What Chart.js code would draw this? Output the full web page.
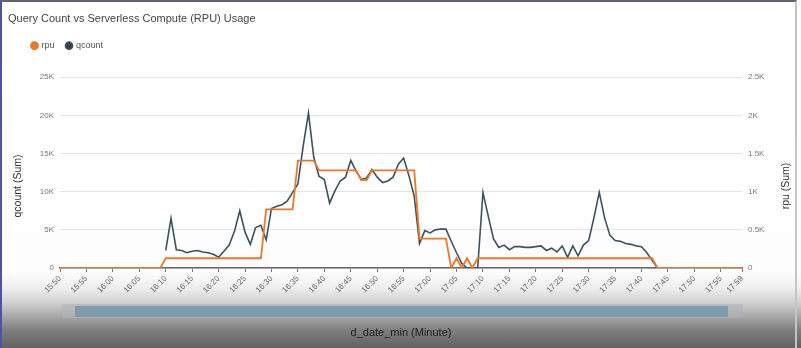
<!DOCTYPE html>
<html>
<head>
<meta charset="utf-8">
<title>Query Count vs Serverless Compute (RPU) Usage</title>
<script src="https://cdn.jsdelivr.net/npm/chart.js@4.4.0/dist/chart.umd.min.js"></script>
<style>
  html, body { margin: 0; padding: 0; }
  body {
    width: 801px; height: 348px; overflow: hidden; position: relative;
    background: linear-gradient(to bottom, #ffffff 0px, #fdfdfd 272px, #eeeeee 288px, #d2d2d2 302px,
      #a9a9a9 316px, #7f7f7f 330px, #626262 348px);
  }
  #frame {
    position: absolute; left: 0; top: 0; width: 797px; height: 348px;
    border-top: 2px solid #5f6470; border-left: 2px solid #4a56a0; border-right: 2px solid #c4c4c4;
    box-sizing: border-box;
  }
  #track { position: absolute; left: 62px; top: 304px; width: 681px; height: 14px; background: rgba(175, 180, 186, 0.55); }
  #thumb { position: absolute; left: 75px; top: 306px; width: 653px; height: 11px; background: #7e9bae; }
  canvas { position: absolute; left: 0; top: 0; }
</style>
</head>
<body>
<div id="frame"></div>
<div id="track"></div>
<div id="thumb"></div>
<canvas id="chart" width="801" height="348"></canvas>
<script>
// minutes from 15:50 to 17:59
const START_MIN = 15 * 60 + 50;
const N_MIN = 130;
const minutes = [];
for (let i = 0; i < N_MIN; i++) {
  const m = START_MIN + i;
  minutes.push(Math.floor(m / 60) + ":" + String(m % 60).padStart(2, "0"));
}

// rpu (Sum) - right axis
const rpu = [
  0, 0, 0, 0, 0, 0, 0, 0, 0, 0, 0, 0, 0, 0, 0, 0, 0, 0, 0, 0,
  128, 128, 128, 128, 128, 128, 128, 128, 128, 128, 128, 128, 128, 128, 128, 128, 128, 128, 128,
  768, 768, 768, 768, 768, 768,
  1408, 1408, 1408, 1408,
  1280, 1280, 1280, 1280, 1280, 1280, 1280, 1280,
  1152, 1152,
  1280, 1280, 1280, 1280, 1280, 1280, 1280, 1280, 1280,
  384, 384, 384, 384, 384, 384,
  0, 128, 0, 128, 0,
  128, 128, 128, 128, 128, 128, 128, 128, 128, 128, 128, 128, 128, 128, 128, 128, 128,
  128, 128, 128, 128, 128, 128, 128, 128, 128, 128, 128, 128, 128, 128, 128, 128, 128,
  0, 0, 0, 0, 0, 0, 0, 0, 0, 0, 0, 0, 0, 0, 0, 0, 0
];

// qcount (Sum) - left axis
const qcount = [
  null, null, null, null, null, null, null, null, null, null,
  null, null, null, null, null, null, null, null, null, null,
  2300, 6500, 2400, 2300, 2000, 2200, 2300, 2100, 2000, 1800,
  1400, 2200, 3000, 4800, 7500, 4700, 3100, 5300, 5600, 3700,
  7800, 8100, 8300, 8800, 9900, 11000, 16000, 20300, 14500, 12000,
  11600, 8500, 10100, 11400, 11900, 14100, 12700, 11600, 11800, 12900,
  11900, 11200, 11400, 11900, 13600, 14400, 12100, 9400, 3200, 4900,
  4600, 5000, 5100, 5100, 3500, 2000, 600, 0, 0, 0,
  9900, 6800, 3800, 2700, 3000, 2400, 2800, 2800, 2700, 2700,
  2800, 2900, 2300, 2600, 2100, 2900, 1400, 2900, 1600, 3000,
  3600, 6600, 9900, 6600, 4300, 3600, 3500, 3200, 3100, 2900,
  2800, 2000, 1000, 0,
  null, null, null, null, null, null, null, null, null, null, null, null, null, null, null, null
];

const qcountTicks = [0, 5000, 10000, 15000, 20000, 25000];
const rpuTicks = [0, 500, 1000, 1500, 2000, 2500];

const FONT = '"Liberation Sans", Arial, sans-serif';

function kLabel(v) {
  return v === 0 ? "0" : (v / 1000) + "K";
}

// move the legend under the title, a bit right of it
const legendShift = {
  id: "legendShift",
  afterLayout(chart) {
    const lg = chart.legend;
    lg.left += 12; lg.right += 12;
    lg.top -= 17; lg.bottom -= 17;
  }
};

// axis titles for both y axes, read bottom-to-top
const axisTitles = {
  id: "axisTitles",
  afterDraw(chart) {
    const ctx = chart.ctx;
    ctx.save();
    ctx.font = "10.5px " + FONT;
    ctx.fillStyle = "#333";
    ctx.textAlign = "center";
    ctx.textBaseline = "middle";
    [[18, "qcount (Sum)"], [786, "rpu (Sum)"]].forEach(([x, text]) => {
      ctx.save();
      ctx.translate(x, 186);
      ctx.rotate(-Math.PI / 2);
      ctx.fillText(text, 0, 0);
      ctx.restore();
    });
    ctx.restore();
  }
};

const ctx = document.getElementById("chart").getContext("2d");
new Chart(ctx, {
  type: "line",
  data: {
    labels: minutes,
    datasets: [
      {
        label: "rpu",
        data: rpu,
        yAxisID: "y1",
        borderColor: "#e8782c",
        backgroundColor: "#e8782c",
        borderWidth: 1.8,
        pointRadius: 0,
        tension: 0
      },
      {
        label: "qcount",
        data: qcount,
        yAxisID: "y",
        borderColor: "#3d525d",
        backgroundColor: "#2f434d",
        borderWidth: 1.6,
        pointRadius: 0,
        tension: 0
      }
    ]
  },
  options: {
    responsive: false,
    animation: false,
    layout: { padding: { left: 8, right: 0, top: 0, bottom: 0 } },
    plugins: {
      title: {
        display: true,
        text: "Query Count vs Serverless Compute (RPU) Usage",
        align: "start",
        color: "#444",
        font: { family: FONT, size: 11, weight: "normal" },
        padding: { top: 12, bottom: 21 }
      },
      legend: {
        display: true,
        align: "start",
        labels: {
          usePointStyle: true,
          pointStyle: "circle",
          boxWidth: 5,
          boxHeight: 5,
          padding: 12,
          color: "#555",
          font: { family: FONT, size: 9 }
        }
      },
      tooltip: { enabled: false }
    },
    scales: {
      x: {
        type: "category",
        offset: false,
        afterBuildTicks: (axis) => {
          axis.ticks = axis.ticks.filter(t => t.value % 5 === 0 || t.value === minutes.length - 1);
        },
        afterFit: (axis) => { axis.height = 80; },
        ticks: {
          autoSkip: false,
          minRotation: 45,
          maxRotation: 45,
          padding: 2,
          color: "#666",
          font: { family: FONT, size: 8 }
        },
        grid: {
          display: true,
          drawOnChartArea: false,
          drawTicks: true,
          tickLength: 4,
          color: "#777"
        },
        border: { display: true, color: "#666", width: 1.5 },
        title: {
          display: true,
          text: "d_date_min (Minute)",
          color: "#222",
          font: { family: FONT, size: 11 },
          padding: { top: 0, bottom: 8 }
        }
      },
      y: {
        position: "left",
        min: 0,
        max: 25000,
        afterFit: (axis) => { axis.width = 52; },
        afterBuildTicks: (axis) => { axis.ticks = qcountTicks.map(v => ({ value: v })); },
        ticks: {
          callback: kLabel,
          padding: 6,
          color: "#777",
          font: { family: FONT, size: 8 }
        },
        grid: { color: "#e4e4e4", lineWidth: 1, drawTicks: false },
        border: { display: false }
      },
      y1: {
        position: "right",
        min: 0,
        max: 2500,
        afterFit: (axis) => { axis.width = 59; },
        afterBuildTicks: (axis) => { axis.ticks = rpuTicks.map(v => ({ value: v })); },
        ticks: {
          callback: kLabel,
          padding: 6,
          color: "#777",
          font: { family: FONT, size: 8 }
        },
        grid: { display: false, drawTicks: false },
        border: { display: false }
      }
    }
  },
  plugins: [legendShift, axisTitles]
});
</script>
</body>
</html>
